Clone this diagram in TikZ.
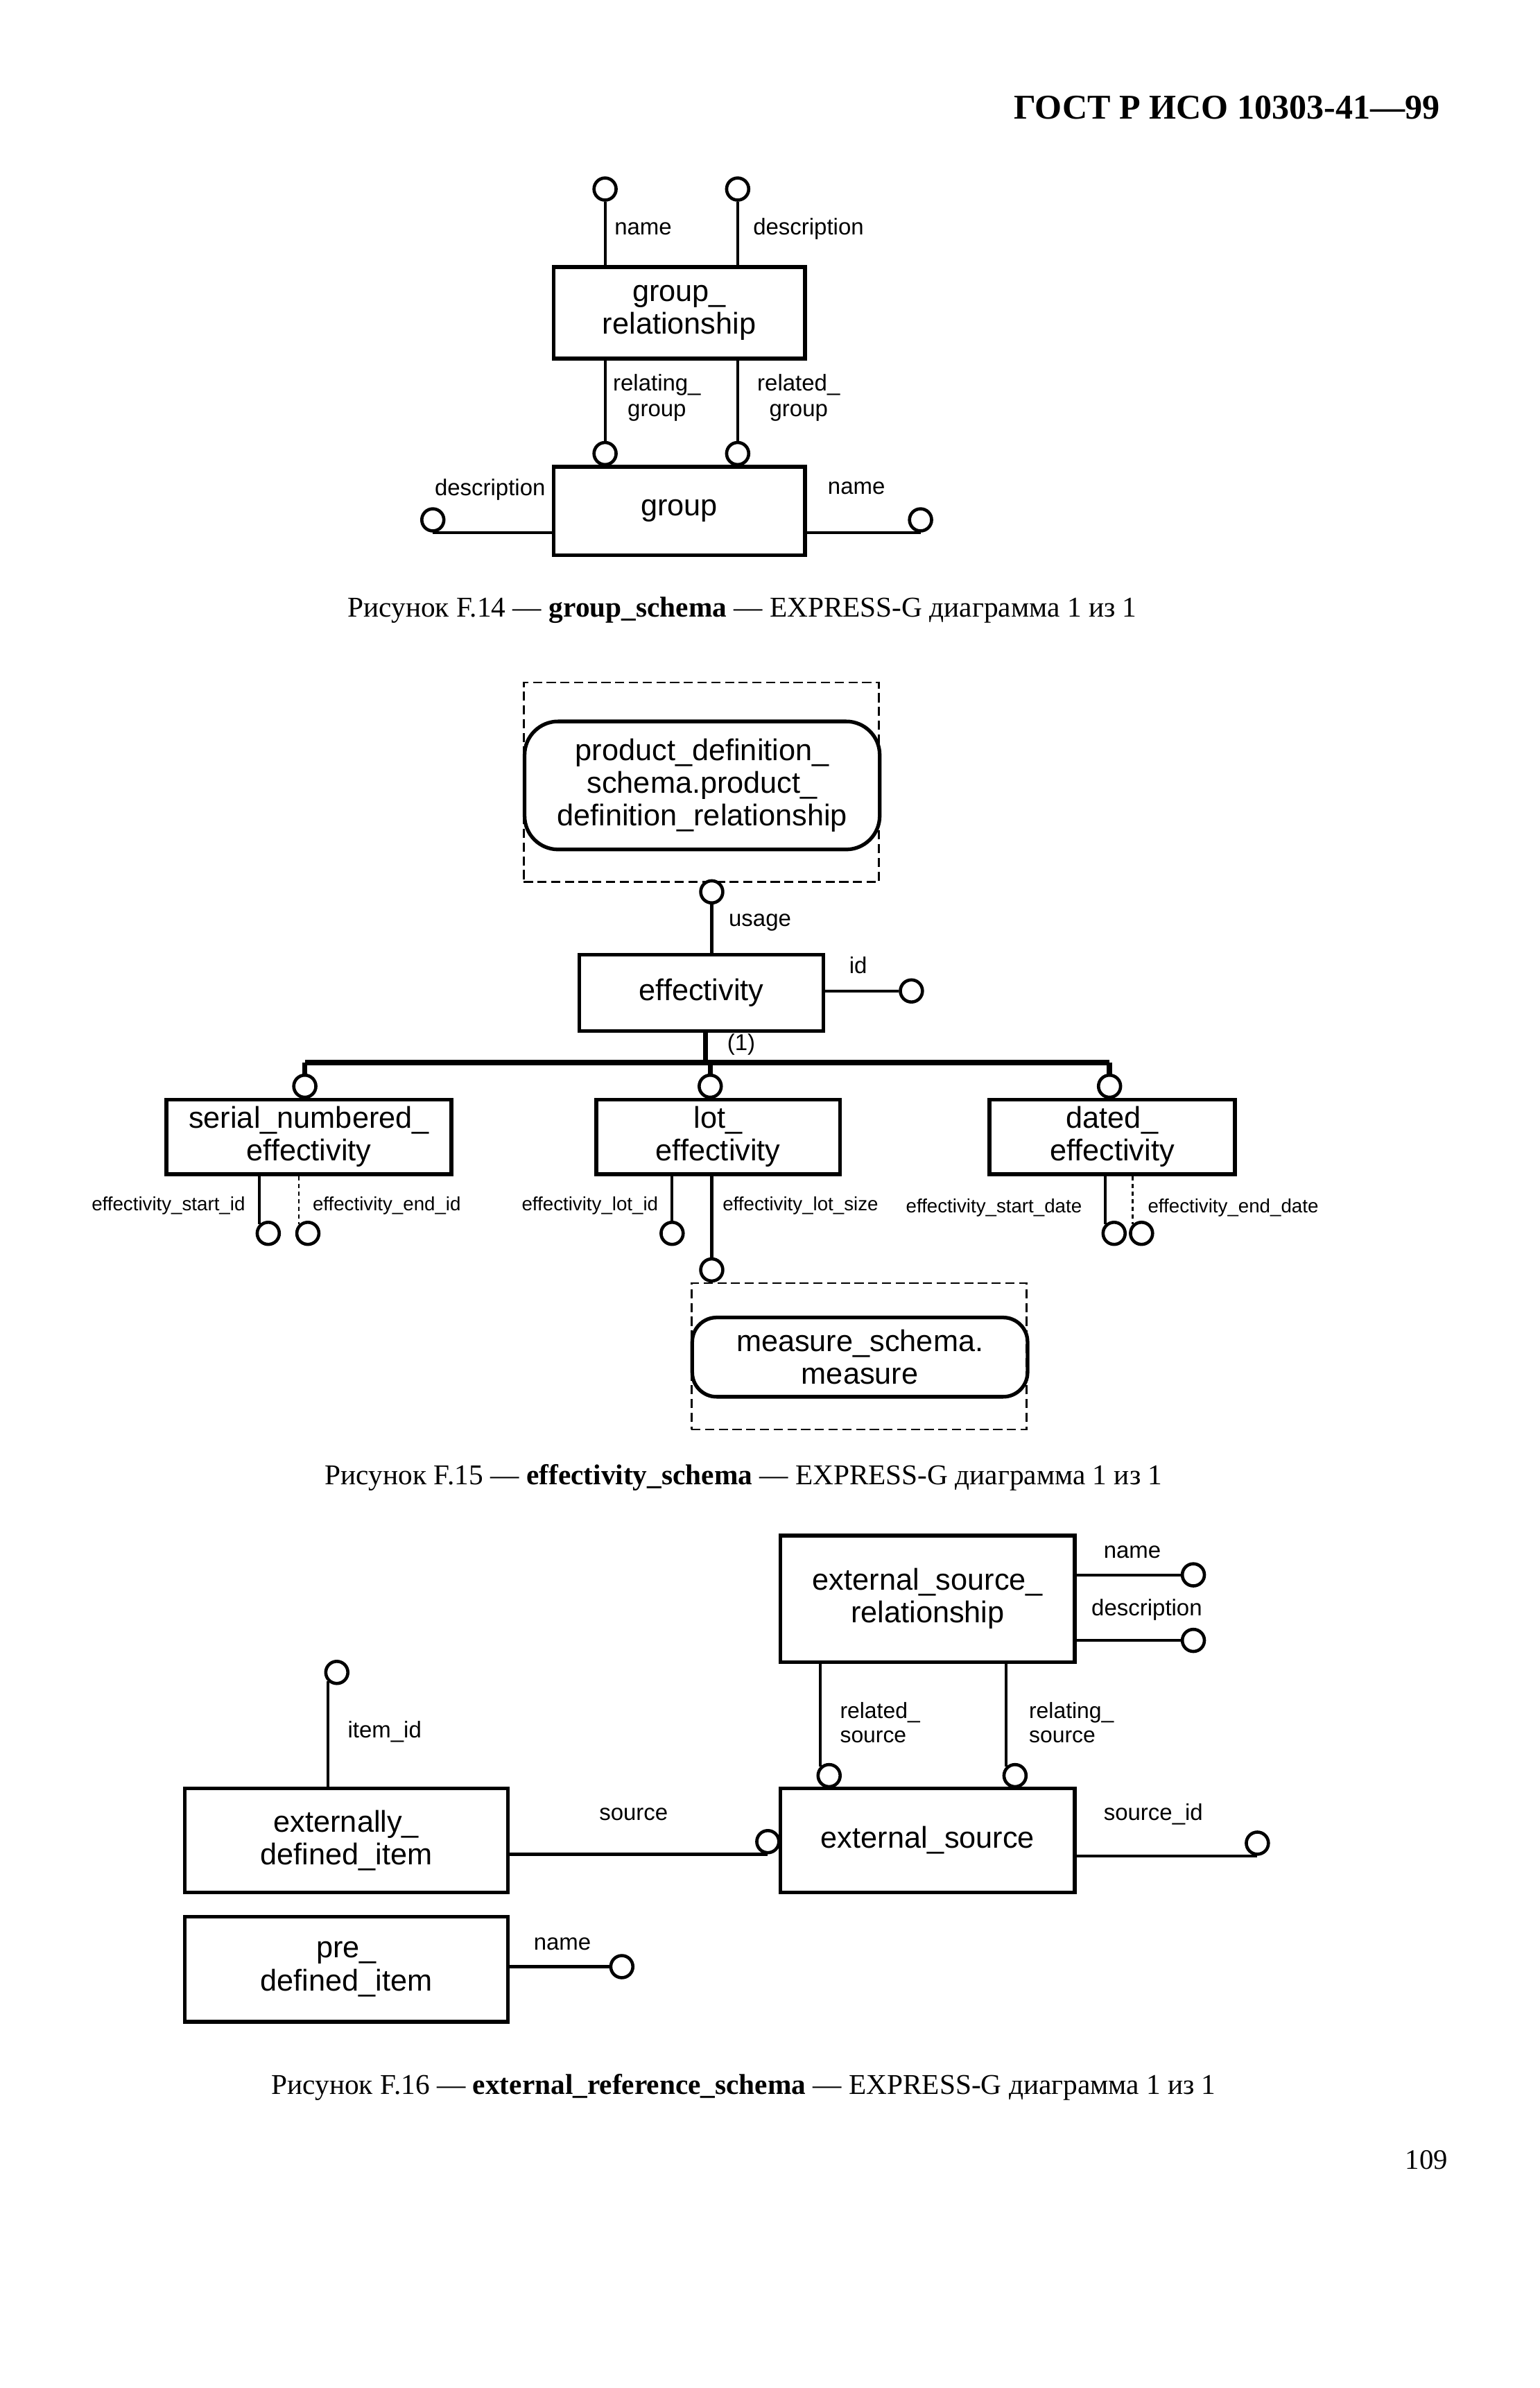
\documentclass[tikz,border=0pt]{standalone}
\usepackage{fontspec}
\setmainfont{Liberation Serif}
\newfontfamily\sansf{Liberation Sans}
\begin{document}
\begin{tikzpicture}[x=1pt,y=-1pt,
  ent/.style={draw, line width=2.4pt, anchor=north west, inner sep=0, align=center, font=\sansf\fontsize{19.7}{21.5}\selectfont},
  rnd/.style={ent, rounded corners=22pt},
  dbox/.style={draw, line width=1.3pt, dash pattern=on 6pt off 3pt, anchor=north west, inner sep=0},
  attr/.style={circle, draw, line width=2.1pt, minimum size=14.5pt, inner sep=0, fill=white},
  ln/.style={line width=1.9pt},
  dln/.style={line width=1.2pt, dash pattern=on 3pt off 2pt},
  tk/.style={line width=3.4pt},
  lab/.style={inner sep=0, font=\sansf\fontsize{15}{17}\selectfont},
  slab/.style={inner sep=0, font=\sansf\fontsize{12.6}{14}\selectfont},
  figcap/.style={inner sep=0, font=\fontsize{18.8}{22}\selectfont}
]
\useasboundingbox[fill=white] (0,0) rectangle (1010,1566.4);

% header
\node[inner sep=0, anchor=base east, font=\bfseries\fontsize{22.8}{26}\selectfont] (hdr) at (945,78) {ГОСТ Р ИСО 10303-41—99};

% ===== F.14 =====
\node[ent, minimum width=165pt, minimum height=60pt] (grel) at (362,174) {group\_\\relationship};
\node[ent, minimum width=165pt, minimum height=58pt] (grp) at (362,305) {group};
\node[attr] (n1) at (397,124) {};
\node[attr] (n2) at (484,124) {};
\node[attr] (rg1) at (397,297.5) {};
\node[attr] (rg2) at (484,297.5) {};
\node[attr] (gd) at (284,341) {};
\node[attr] (gn) at (604,341) {};
\draw[ln] (n1) -- (grel.north -| n1);
\draw[ln] (n2) -- (grel.north -| n2);
\draw[ln] (grel.south -| rg1) -- (rg1);
\draw[ln] (grel.south -| rg2) -- (rg2);
\draw[ln] (grp.west |- gd.south) -- (gd.south);
\draw[ln] (grp.east |- gn.south) -- (gn.south);
\node[lab, anchor=west] (l1) at (403,150) {name};
\node[lab, anchor=west] (l2) at (494,150) {description};
\node[lab, align=center] (l3) at (431,261) {relating\_\\group};
\node[lab, align=center] (l4) at (524,261) {related\_\\group};
\node[lab, anchor=east] (l5) at (358,321) {description};
\node[lab, anchor=west] (l6) at (543,320) {name};
\node[figcap] (c14) at (487,400) {Рисунок F.14 — \textbf{group\_schema} — EXPRESS-G диаграмма 1 из 1};

% ===== F.15 =====
\node[dbox, minimum width=233pt, minimum height=131pt] (pdd) at (343,447) {};
\node[rnd, minimum width=233pt, minimum height=84pt] (pdr) at (343,472) {product\_definition\_\\schema.product\_\\definition\_relationship};
\node[attr] (uc) at (467,585) {};
\node[ent, minimum width=160pt, minimum height=50pt] (eff) at (379,625) {effectivity};
\node[attr] (idc) at (598,650) {};
\draw[ln] (uc) -- (eff.north -| uc);
\draw[ln] (eff.east |- idc) -- (idc);
\node[lab, anchor=west] (lu) at (478,605) {usage};
\node[lab, anchor=west] (lid) at (557,633) {id};
\node[lab, anchor=west] (lone) at (477,685) {(1)};

\node[ent, minimum width=187pt, minimum height=49pt] (sn) at (108,720) {serial\_numbered\_\\effectivity};
\node[ent, minimum width=160pt, minimum height=49pt] (le) at (390,720) {lot\_\\effectivity};
\node[ent, minimum width=161pt, minimum height=49pt] (de) at (648,720) {dated\_\\effectivity};
\node[attr] (s1c) at (200,712.5) {};
\node[attr] (s2c) at (466,712.5) {};
\node[attr] (s3c) at (728,712.5) {};
\coordinate (bj) at (463,697);
\draw[tk] (eff.south -| bj) -- (bj);
\draw[tk] (s1c |- bj) -- (s3c |- bj);
\draw[tk] (s1c |- bj) -- (s1c);
\draw[tk] (s2c |- bj) -- (s2c);
\draw[tk] (s3c |- bj) -- (s3c);

\node[attr] (sa1) at (176,809) {};
\node[attr] (sa2) at (202,809) {};
\node[attr] (la1) at (441,809) {};
\node[attr] (da1) at (731,809) {};
\node[attr] (da2) at (749,809) {};
\draw[ln] (sn.south -| sa1.135) -- (sa1.135);
\draw[dln] (sn.south -| sa2.135) -- (sa2.135);
\draw[ln] (le.south -| la1) -- (la1);
\draw[ln] (de.south -| da1.135) -- (da1.135);
\draw[dln] (de.south -| da2.135) -- (da2.135);
\node[slab, anchor=east] (ls1) at (161,791) {effectivity\_start\_id};
\node[slab, anchor=west] (ls2) at (205,791) {effectivity\_end\_id};
\node[slab, anchor=east] (ls3) at (432,791) {effectivity\_lot\_id};
\node[slab, anchor=west] (ls4) at (474,791) {effectivity\_lot\_size};
\node[slab, anchor=east] (ls5) at (710,792) {effectivity\_start\_date};
\node[slab, anchor=west] (ls6) at (753,792) {effectivity\_end\_date};

\node[dbox, minimum width=220pt, minimum height=96pt] (msd) at (453,841) {};
\node[rnd, minimum width=220pt, minimum height=52pt, rounded corners=16pt] (ms) at (453,863) {measure\_schema.\\measure};
\node[attr] (mc) at (467,833) {};
\draw[ln] (le.south -| mc) -- (mc);
\node[figcap] (c15) at (488,969) {Рисунок F.15 — \textbf{effectivity\_schema} — EXPRESS-G диаграмма 1 из 1};

% ===== F.16 =====
\node[ent, minimum width=193pt, minimum height=83pt] (esr) at (511,1006) {external\_source\_\\relationship};
\node[ent, minimum width=193pt, minimum height=68pt] (es) at (511,1172) {external\_source};
\node[ent, minimum width=212pt, minimum height=68pt] (edi) at (120,1172) {externally\_\\defined\_item};
\node[ent, minimum width=212pt, minimum height=69pt] (pdi) at (120,1256) {pre\_\\defined\_item};
\node[attr] (en) at (783,1033) {};
\node[attr] (ed) at (783,1076) {};
\node[attr] (rs1) at (544,1164.7) {};
\node[attr] (rs2) at (666,1164.7) {};
\node[attr] (esid) at (825,1209) {};
\node[attr] (src) at (503.8,1208) {};
\node[attr] (itc) at (221,1097) {};
\node[attr] (pn) at (408,1290) {};
\draw[ln] (esr.east |- en) -- (en);
\draw[ln] (esr.east |- ed) -- (ed);
\draw[ln] (esr.south -| rs1.135) -- (rs1.135);
\draw[ln] (esr.south -| rs2.135) -- (rs2.135);
\draw[ln] (es.east |- esid.south) -- (esid.south);
\draw[ln] (edi.east |- src.south) -- (src.south);
\draw[ln] (edi.north -| itc.225) -- (itc.225);
\draw[ln] (pdi.east |- pn) -- (pn);
\node[lab, anchor=west] (m1) at (724,1018) {name};
\node[lab, anchor=west] (m2) at (716,1056) {description};
\node[lab, anchor=west, align=left, font=\sansf\fontsize{14.5}{16}\selectfont] (m3) at (551,1130) {related\_\\source};
\node[lab, anchor=west, align=left, font=\sansf\fontsize{14.5}{16}\selectfont] (m4) at (675,1130) {relating\_\\source};
\node[lab, anchor=west] (m5) at (724,1190) {source\_id};
\node[lab, anchor=west] (m6) at (228,1136) {item\_id};
\node[lab, anchor=west] (m7) at (393,1190) {source};
\node[lab, anchor=west] (m8) at (350,1275) {name};
\node[figcap] (c16) at (488,1369) {Рисунок F.16 — \textbf{external\_reference\_schema} — EXPRESS-G диаграмма 1 из 1};

\node[inner sep=0, anchor=base east, font=\fontsize{18.5}{20}\selectfont] (pg) at (950,1423) {109};
\end{tikzpicture}
\end{document}
